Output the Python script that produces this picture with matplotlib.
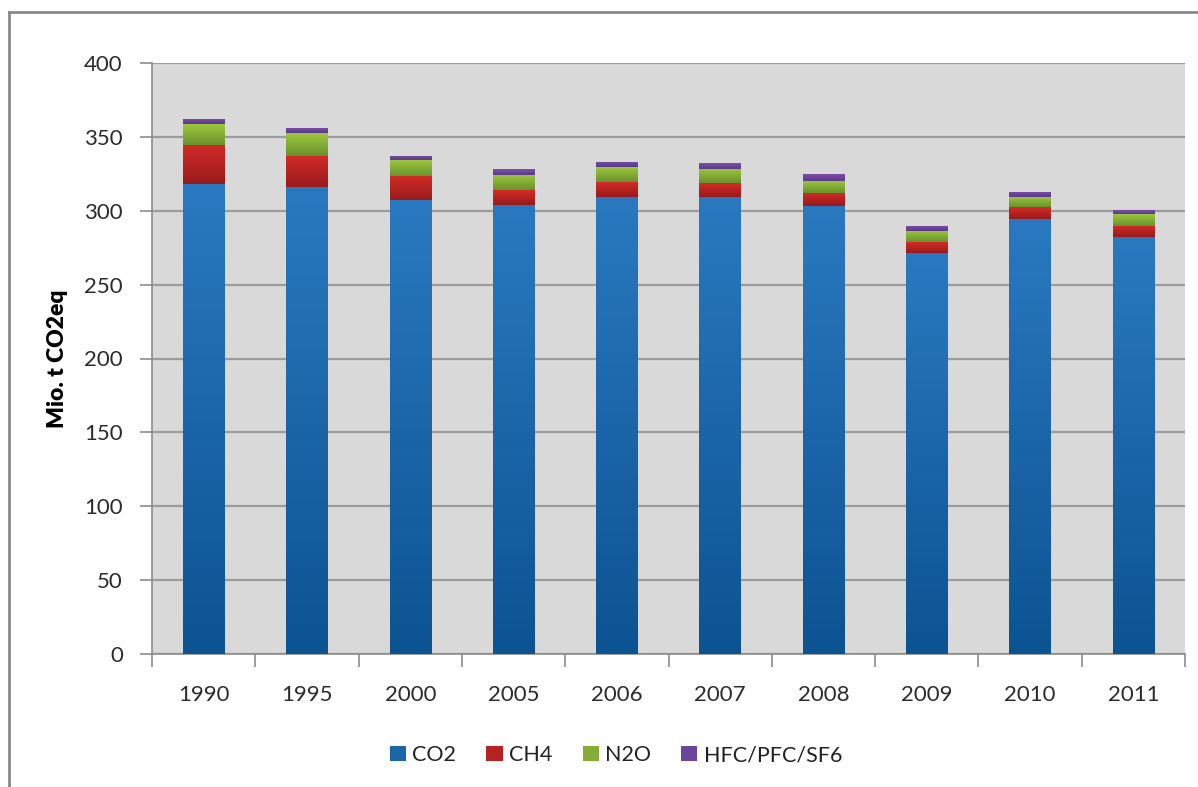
import numpy as np
import matplotlib
matplotlib.use("Agg")
import matplotlib.pyplot as plt
from matplotlib.colors import LinearSegmentedColormap, to_rgb
from matplotlib.patches import Patch

plt.rcParams['font.family'] = ['Lato', 'DejaVu Sans']

years = ['1990', '1995', '2000', '2005', '2006', '2007', '2008', '2009', '2010', '2011']
co2 = [318.0, 316.0, 307.0, 304.0, 309.5, 309.5, 303.0, 271.5, 294.5, 282.0]
ch4 = [26.5, 21.0, 16.6, 10.0, 10.0, 9.0, 8.8, 7.4, 7.7, 7.7]
n2o = [14.0, 15.5, 10.6, 10.4, 9.9, 9.9, 8.6, 7.5, 7.2, 8.1]
hfc = [3.4, 3.6, 3.0, 3.8, 3.6, 3.6, 4.3, 3.4, 3.4, 2.5]

series = [
    ("CO2", co2, "#0c5392", "#2a79c0"),
    ("CH4", ch4, "#981b1c", "#d42b26"),
    ("N2O", n2o, "#6a912d", "#9dc83d"),
    ("HFC/PFC/SF6", hfc, "#5b388a", "#7c50a8"),
]

fig = plt.figure(figsize=(11.98, 7.87), dpi=100)
ax = fig.add_axes([152/1198, 1 - 654/787, (1185-152)/1198, (654-63)/787])
ax.set_facecolor('#d9d9d9')

x = np.arange(len(years))
bottom = np.zeros(len(years))
handles = []
for name, vals, dark, light in series:
    bars = ax.bar(x, vals, width=0.4, bottom=bottom, color=light, zorder=3, linewidth=0)
    cmap = LinearSegmentedColormap.from_list(name, [dark, light])
    grad = np.linspace(0, 1, 256).reshape(-1, 1)
    for b in bars:
        x0, y0 = b.get_x(), b.get_y()
        im = ax.imshow(grad, cmap=cmap, origin='lower', aspect='auto',
                       extent=(x0, x0 + b.get_width(), y0, y0 + b.get_height()),
                       zorder=4, interpolation='bicubic')
        im.set_clip_path(b)
    bottom += np.array(vals)
    mid = tuple((np.array(to_rgb(dark)) + np.array(to_rgb(light))) / 2)
    handles.append(Patch(facecolor=mid, label=name))

ax.set_xlim(-0.5, len(years) - 0.5)
ax.set_ylim(0, 400)
ax.set_yticks(np.arange(0, 401, 50))
ax.yaxis.grid(True, color='#9c9c9c', linewidth=1.6, zorder=1)
ax.set_axisbelow(True)

ax.set_xticks(x)
ax.set_xticklabels(years)
ax.set_xticks(np.arange(-0.5, len(years)), minor=True)
ax.tick_params(axis='x', which='major', length=0, pad=22, labelsize=16, labelcolor='#2b2b2b')
ax.tick_params(axis='x', which='minor', length=9, width=1.2, color='#8c8c8c')
ax.tick_params(axis='y', length=9, width=1.2, color='#8c8c8c', pad=12,
               labelsize=16, labelcolor='#2b2b2b')

for s in ['top', 'right']:
    ax.spines[s].set_visible(False)
for s in ['left', 'bottom']:
    ax.spines[s].set_color('#8c8c8c')
    ax.spines[s].set_linewidth(1.2)

ax.set_ylabel('Mio. t CO2eq', fontsize=16.5, fontweight='heavy', labelpad=12)

fig.legend(handles=handles, loc='center', bbox_to_anchor=(616/1198, 1 - 755/787),
           ncol=4, frameon=False, fontsize=15.5, handlelength=0.75, handleheight=0.75,
           handletextpad=0.3, columnspacing=1.4, labelcolor='#222222')

# outer chart frame
fig.add_artist(plt.Line2D([9/1198, 9/1198], [0, 1 - 11.5/787], transform=fig.transFigure,
                          color='#8a8a8a', linewidth=2))
fig.add_artist(plt.Line2D([9/1198, 1], [1 - 11.5/787, 1 - 11.5/787], transform=fig.transFigure,
                          color='#8a8a8a', linewidth=2))

fig.savefig('out.png', dpi=100)
